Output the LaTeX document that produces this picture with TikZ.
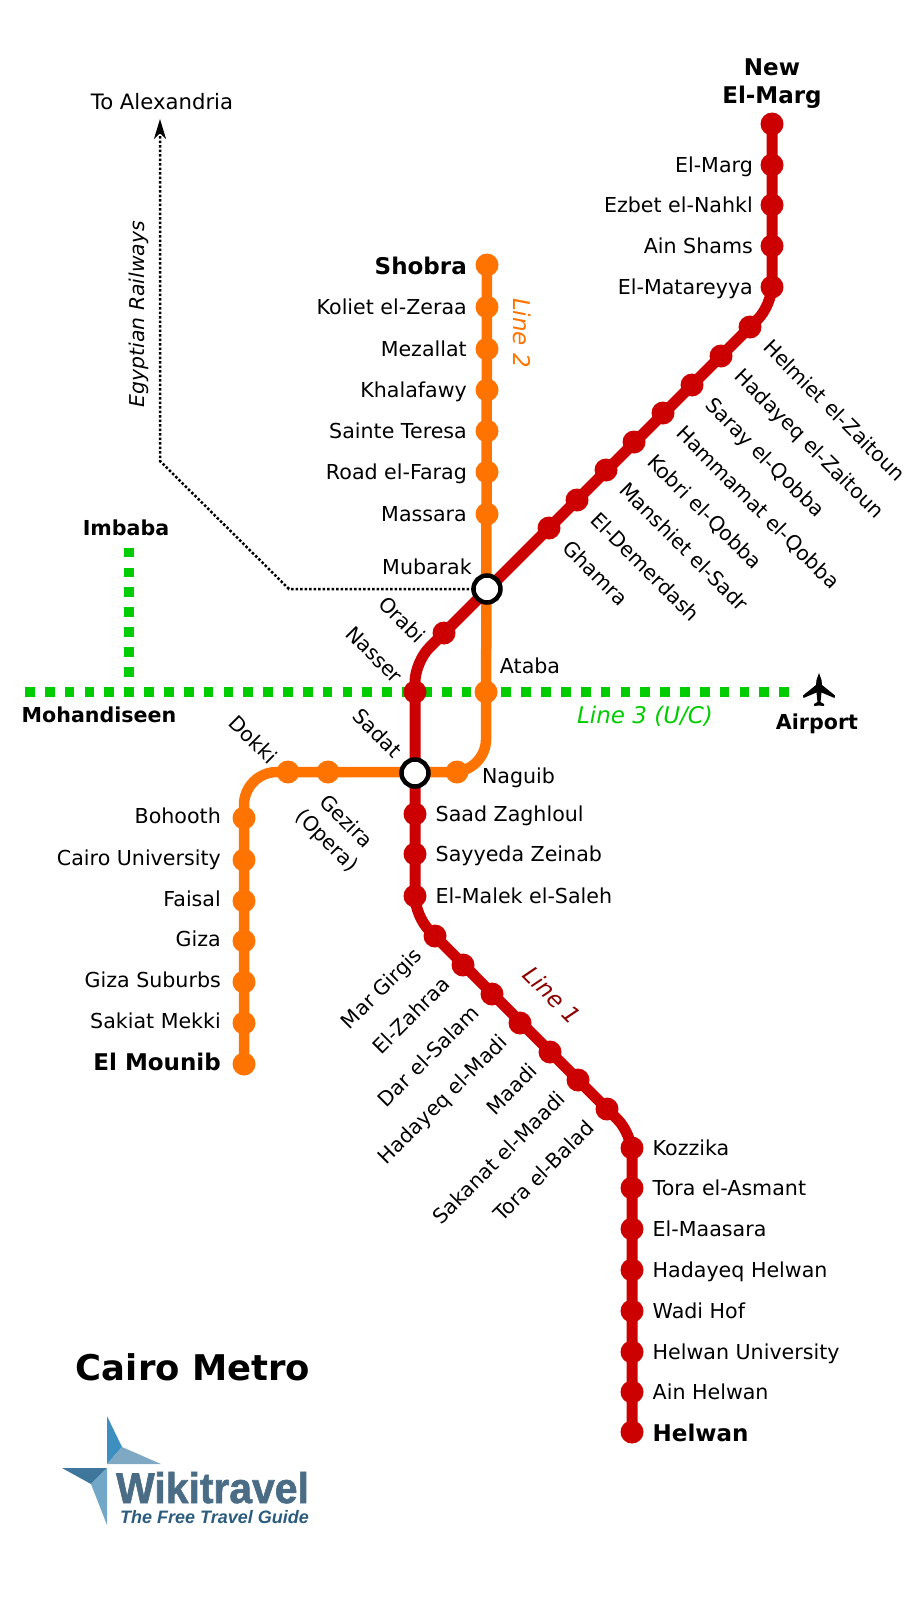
\documentclass[tikz,border=0pt]{standalone}
\usepackage{fontspec}
\setmainfont{DejaVu Sans}
\newfontfamily\logofont{Liberation Sans}
\newfontfamily\logoheavy[UprightFont=* Bold,FakeBold=1.5]{Liberation Sans}
\usetikzlibrary{arrows.meta,positioning}
\definecolor{linered}{HTML}{CC0000}
\definecolor{lineorange}{HTML}{FF7400}
\definecolor{linegreen}{HTML}{00CC00}
\definecolor{logotext}{HTML}{4A6D85}
\definecolor{logoguide}{HTML}{2B5C7E}
\tikzset{
  txt/.style={inner sep=0pt, outer sep=0pt, text height=19pt, text depth=4pt, font=\fontsize{20.6}{24}\selectfont},
  diagtxt/.style={inner sep=0pt, outer sep=0pt, text height=14pt, text depth=6pt, font=\fontsize{20.4}{24}\selectfont},
  boldtxt/.style={txt, font=\fontsize{20.6}{24}\selectfont\bfseries},
  endtxt/.style={txt, text height=22pt, font=\fontsize{23}{28}\selectfont\bfseries},
  linetxt/.style={diagtxt, font=\fontsize{23}{28}\selectfont\itshape},
  redstop/.style={circle, fill=linered, minimum size=23pt, inner sep=0pt},
  orangestop/.style={circle, fill=lineorange, minimum size=23pt, inner sep=0pt},
  interchange/.style={circle, draw=black, line width=4.5pt, fill=white, minimum size=27pt, inner sep=0pt},
  redline/.style={draw=linered, line width=11pt, rounded corners=20pt},
  orangeline/.style={draw=lineorange, line width=10.5pt, rounded corners=33pt},
  greenline/.style={draw=linegreen, line width=9.7pt, dash pattern=on 9.7pt off 10.15pt},
}
\begin{document}
\begin{tikzpicture}[x=1pt, y=-1pt]
    \useasboundingbox (0,0) rectangle (920,1600);

    % bends
    \coordinate (bendA) at (772,305);
    \coordinate (bendB) at (415,662);
    \coordinate (bendC) at (415,916);
    \coordinate (bendD) at (632,1134);
    \coordinate (bendE) at (486,772);
    \coordinate (bendF) at (244,772);
    \coordinate (railA) at (289,589);
    \coordinate (railB) at (160,461);
    \coordinate (railC) at (160,119);
    \coordinate (greenW) at (25,692);
    \coordinate (greenE) at (790,692);
    \coordinate (greenN) at (129,547.7);
    \coordinate (greenS) at (129,697);

    % Line 3
    \draw[greenline] (greenW) -- (greenE);
    \draw[greenline] (greenN) -- (greenS);

    \path (487,589) coordinate (mubarakpt) (415,773) coordinate (sadatpt);

    % Egyptian Railways
    \draw[black, line width=2.5pt, dotted, -{Stealth[length=20pt, width=12pt, inset=6pt]}] (mubarakpt) -- (railA) -- (railB) -- (railC);

    % Lines 2 and 1
    \path (487,265) coordinate (shobrapt) (244,1064) coordinate (mounibpt);
    \path (772,124) coordinate (newmargpt) (632,1432) coordinate (helwanpt);
    \draw[orangeline] (shobrapt) -- (bendE) -- (bendF) -- (mounibpt);
    \draw[redline] (newmargpt) -- (bendA) -- (bendB) -- (bendC) -- (bendD) -- (helwanpt);

    % stops with the label on the left
    \foreach \name/\x/\y/\txt in {elmarg/772/165/El-Marg, ezbet/772/205/Ezbet el-Nahkl, ainshams/772/246/Ain Shams, matareyya/772/287/El-Matareyya}
        \node[redstop] (\name) at (\x,\y) {} node[txt, left=7.5pt of \name] (\name-t) {\txt};
    \foreach \name/\x/\y/\txt in {koliet/487/307/Koliet el-Zeraa, mezallat/487/349/Mezallat, khalafawy/487/390/Khalafawy, teresa/487/431/Sainte Teresa, farag/487/472/Road el-Farag, massara/487/514/Massara}
        \node[orangestop] (\name) at (\x,\y) {} node[txt, left=8.5pt of \name] (\name-t) {\txt};
    \foreach \name/\x/\y/\txt in {bohooth/244/818/Bohooth, cairouni/244/860/Cairo University, faisal/244/901/Faisal, giza/244/941/Giza, suburbs/244/982/Giza Suburbs, sakiat/244/1023/Sakiat Mekki}
        \node[orangestop] (\name) at (\x,\y) {} node[txt, left=11.5pt of \name, yshift=2pt] (\name-t) {\txt};

    % stops with the label on the right
    \foreach \name/\x/\y/\txt in {saad/415/814/Saad Zaghloul, sayyeda/415/854/Sayyeda Zeinab, malek/415/896/El-Malek el-Saleh, kozzika/632/1148/Kozzika, asmant/632/1188/Tora el-Asmant, maasara/632/1229/El-Maasara, hadhelwan/632/1270/Hadayeq Helwan, wadi/632/1311/Wadi Hof, helwanuni/632/1352/Helwan University, ainhelwan/632/1392/Ain Helwan}
        \node[redstop] (\name) at (\x,\y) {} node[txt, right=9pt of \name] (\name-t) {\txt};

    % diagonal stops
    \foreach \name/\x/\y/\txt in {helmiet/750/327/Helmiet el-Zaitoun, hadzait/721/356/Hadayeq el-Zaitoun, saray/692/385/Saray el-Qobba, hammamat/663/413/Hammamat el-Qobba, kobri/634/442/Kobri el-Qobba, manshiet/606/470/Manshiet el-Sadr, demerdash/577/500/El-Demerdash, ghamra/549/528/Ghamra}
        \node[redstop] (\name) at (\x,\y) {} node[diagtxt, rotate=-45, anchor=west] (\name-t) at ([shift={(15,18.5)}]\name.center) {\txt};
    \foreach \name/\x/\y/\txt in {margirgis/435/936/Mar Girgis, zahraa/463/965/El-Zahraa, salam/492/994/Dar el-Salam, hadmadi/520/1023/Hadayeq el-Madi, maadi/550/1052/Maadi, sakanat/578/1080/Sakanat el-Maadi, torabalad/607/1109/Tora el-Balad}
        \node[redstop] (\name) at (\x,\y) {} node[diagtxt, rotate=45, anchor=east] (\name-t) at ([shift={(-14.5,18)}]\name.center) {\txt};

    % termini
    \node[redstop] (newmarg) at (newmargpt) {};
    \node[redstop] (helwan) at (helwanpt) {};
    \node[orangestop] (shobra) at (shobrapt) {};
    \node[orangestop] (mounib) at (mounibpt) {};
    \node[font=\fontsize{23}{28}\selectfont\bfseries, align=center, inner sep=0pt] (newmarg-t) at (772,84) {New\\El-Marg};
    \node[endtxt, right=9pt of helwan] (helwan-t) {Helwan};
    \node[endtxt, left=8.5pt of shobra] (shobra-t) {Shobra};
    \node[endtxt, left=11.5pt of mounib, yshift=3pt] (mounib-t) {El Mounib};

    % middle stops
    \node[redstop] (orabi) at (444,633) {};
    \node[redstop] (nasser) at (415,692) {};
    \node[orangestop] (ataba) at (486,692) {};
    \node[orangestop] (naguib) at (457,772) {};
    \node[orangestop] (gezira) at (328,772) {};
    \node[orangestop] (dokki) at (288,772) {};
    \node[interchange] (mubarak) at (mubarakpt) {};
    \node[interchange] (sadat) at (sadatpt) {};

    \node[txt] (mubarak-t) at (427,567) {Mubarak};
    \node[diagtxt, rotate=-45] (orabi-t) at (400,622) {Orabi};
    \node[diagtxt, rotate=-45] (nasser-t) at (372,657) {Nasser};
    \node[diagtxt, rotate=-45] (sadat-t) at (375,735) {Sadat};
    \node[diagtxt, rotate=-45] (dokki-t) at (251,742) {Dokki};
    \node[txt] (ataba-t) at (530,666) {Ataba};
    \node[txt, anchor=west] (naguib-t) at (482,776) {Naguib};
    \node[font=\fontsize{20.4}{27}\selectfont, rotate=-45, align=center, inner sep=0pt] (gezira-t) at (336,832) {Gezira\\(Opera)};

    % line names and others
    \node[linetxt, text=lineorange, rotate=-90] (line2) at (517,333) {Line 2};
    \node[linetxt, text=red!55!black, rotate=-45] (line1) at (549,998) {Line 1};
    \node[linetxt, text=linegreen] (line3) at (645,719) {Line 3 (U/C)};
    \node[boldtxt] (airport) at (817,722) {Airport};
    \node[boldtxt] (mohandiseen) at (99,715) {Mohandiseen};
    \node[boldtxt] (imbaba) at (126,528) {Imbaba};
    \node[txt, font=\fontsize{21.2}{24}\selectfont] (alexandria) at (162,102) {To Alexandria};
    \node[txt, rotate=90, font=\fontsize{20.4}{24}\selectfont\itshape] (railways) at (137,314) {Egyptian Railways};
    \node[font=\fontsize{35.4}{40}\selectfont\bfseries, inner sep=0pt] (title) at (193,1367) {Cairo Metro};

    % plane
    \fill[black] (819,673) -- (821.5,680) -- (822,685) -- (835,695.5) -- (834.5,698) -- (821.5,692.5) -- (820.5,702) -- (824,704) -- (824,706) -- (819,705.5) -- (814,706) -- (814,704) -- (817.5,702) -- (816.5,692.5) -- (803.5,698) -- (803,695.5) -- (816,685) -- (816.5,680) -- cycle;

    % logo
    \fill[color={rgb,255:red,61;green,143;blue,192}] (107,1416) -- (122,1447) -- (107,1464) -- cycle;
    \fill[color={rgb,255:red,127;green,168;blue,196}] (122,1447) -- (161,1464) -- (107,1464) -- cycle;
    \fill[color={rgb,255:red,63;green,118;blue,156}] (62,1468) -- (107,1468) -- (91,1484) -- cycle;
    \fill[color={rgb,255:red,114;green,167;blue,200}] (107,1468) -- (91,1484) -- (107,1525) -- cycle;
    \node[inner sep=0pt, anchor=base east, text=logotext, xscale=.95, font=\fontsize{43}{48}\logoheavy] (logoname) at (309,1503) {Wikitravel};
    \node[inner sep=0pt, anchor=base east, text=logoguide, font=\fontsize{18}{20}\logofont\bfseries\itshape] (logoguide) at (309,1523) {The Free Travel Guide};
\end{tikzpicture}
\end{document}
